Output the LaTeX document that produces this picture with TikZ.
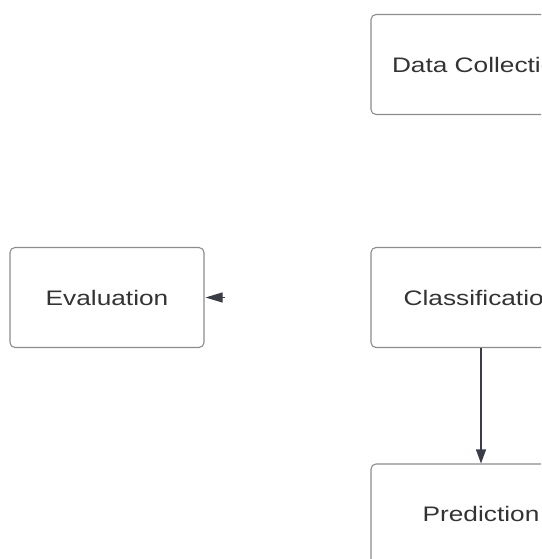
\documentclass[tikz,border=0pt]{standalone}
\usepackage{fontspec}
\usepackage{xcolor}
\usepackage{tikz}
\usetikzlibrary{arrows.meta, positioning}
\newfontfamily\boxfont{Liberation Sans}[FakeStretch=1.25]
\definecolor{boxline}{HTML}{8C8C8C}
\definecolor{arrowcol}{HTML}{3A3D45}
\definecolor{textcol}{HTML}{333333}

\begin{document}
\begin{tikzpicture}[x=1pt, y=1pt,
    stage/.style={draw=boxline, line width=1.1pt, rounded corners=5pt, fill=white,
        minimum width=220pt, minimum height=100pt, inner sep=0pt,
        font=\boxfont\fontsize{21}{24}\selectfont, text=textcol},
    flow/.style={-{Triangle[length=14pt, width=10pt]}, arrowcol, line width=1.1pt}]
    % Canvas
    \useasboundingbox (0,0) rectangle (541,-559);
    \clip (0,0) rectangle (541,-559);
    
    % Stages
    \node[stage] (data) at (481,-64.5) {Data Collection};
    \node[stage] (classif) at (481,-297.5) {Classification};
    \node[stage, minimum width=194pt] (eval) at (107,-297.5) {Evaluation};
    \node[stage] (pred) at (481,-514) {Prediction};
    
    % Connectors
    \draw[flow] (classif) -- (pred);
    \coordinate (evalstub) at (225,-297.5);
    \draw[flow, -{Triangle[length=17pt, width=10pt]}, shorten >=1pt] (evalstub) -- (eval);
    
\end{tikzpicture}
\end{document}
